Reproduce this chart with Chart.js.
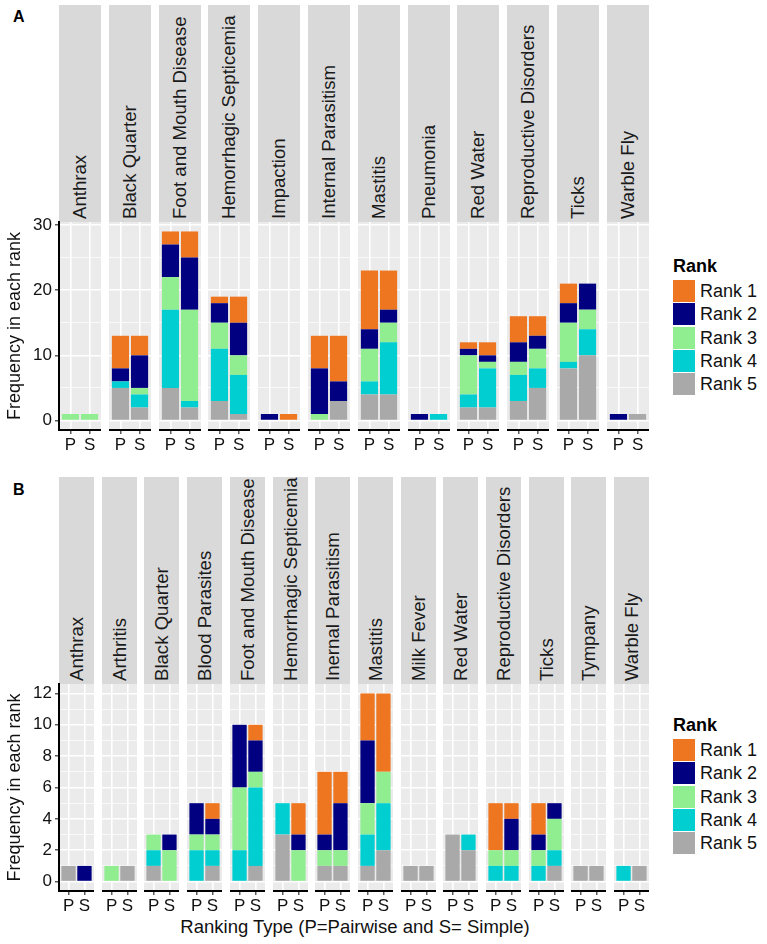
<!DOCTYPE html>
<html>
<head>
<meta charset="utf-8">
<script src="https://cdn.jsdelivr.net/npm/chart.js@4.4.0/dist/chart.umd.min.js"></script>
<style>
body { margin: 0; background: #fff; font-family: 'Liberation Sans', Arial, sans-serif; }
#wrap { position: relative; width: 767px; height: 944px; overflow: hidden; }
.strip { position: absolute; background: #d9d9d9; overflow: hidden; }
.strip span { position: absolute; white-space: nowrap; font-size: 18.6px; line-height: 20px; color: #1a1a1a; transform-origin: 0 0; transform: rotate(-90deg); }
canvas { position: absolute; }
.letter { position: absolute; left: 13px; font: bold 16px 'Liberation Sans Narrow', 'Liberation Sans', sans-serif; }
.lgTitle { position: absolute; left: 673px; font-size: 18px; font-weight: bold; line-height: 20px; }
.lgKey { position: absolute; left: 673px; width: 22px; height: 22px; }
.lgText { position: absolute; left: 700px; font-size: 18px; line-height: 22px; color: #111; }
#xtitle { position: absolute; left: 59px; width: 592px; top: 917px; text-align: center; font-size: 18.5px; line-height: 20px; color: #111; }
</style>
</head>
<body>
<div id="wrap">
  <div id="xtitle">Ranking Type (P=Pairwise and S= Simple)</div>
</div>
<script>
// ranks, bottom of the stack is Rank 5
const rankNames = ['Rank 1', 'Rank 2', 'Rank 3', 'Rank 4', 'Rank 5'];
const rankColors = ['#EE7621', '#000080', '#90EE90', '#00CED1', '#A9A9A9'];
const typeLabels = ['P', 'S'];

// panel A
const diseasesA = ['Anthrax', 'Black Quarter', 'Foot and Mouth Disease', 'Hemorrhagic Septicemia', 'Impaction',
  'Internal Parasitism', 'Mastitis', 'Pneumonia', 'Red Water', 'Reproductive Disorders', 'Ticks', 'Warble Fly'];
const aP1 = [0, 5, 2, 1, 0, 5, 9, 0, 1, 4, 3, 0];
const aP2 = [0, 2, 5, 3, 1, 7, 3, 1, 1, 3, 3, 1];
const aP3 = [1, 0, 5, 4, 0, 1, 5, 0, 6, 2, 6, 0];
const aP4 = [0, 1, 12, 8, 0, 0, 2, 0, 2, 4, 1, 0];
const aP5 = [0, 5, 5, 3, 0, 0, 4, 0, 2, 3, 8, 0];
const aS1 = [0, 3, 4, 4, 1, 7, 6, 0, 2, 3, 0, 0];
const aS2 = [0, 5, 8, 5, 0, 3, 2, 0, 1, 2, 4, 0];
const aS3 = [1, 1, 14, 3, 0, 0, 3, 0, 1, 3, 3, 0];
const aS4 = [0, 2, 1, 6, 0, 0, 8, 1, 6, 3, 4, 0];
const aS5 = [0, 2, 2, 1, 0, 3, 4, 0, 2, 5, 10, 1];
const yTicksA = [0, 5, 10, 15, 20, 25, 30];

// panel B
const diseasesB = ['Anthrax', 'Arthritis', 'Black Quarter', 'Blood Parasites', 'Foot and Mouth Disease',
  'Hemorrhagic Septicemia', 'Inernal Parasitism', 'Mastitis', 'Milk Fever', 'Red Water',
  'Reproductive Disorders', 'Ticks', 'Tympany', 'Warble Fly'];
const bP1 = [0, 0, 0, 0, 0, 0, 4, 3, 0, 0, 3, 2, 0, 0];
const bP2 = [0, 0, 0, 2, 4, 0, 1, 4, 0, 0, 0, 1, 0, 0];
const bP3 = [0, 1, 1, 1, 4, 0, 1, 2, 0, 0, 1, 1, 0, 0];
const bP4 = [0, 0, 1, 2, 2, 2, 0, 2, 0, 0, 1, 1, 0, 1];
const bP5 = [1, 0, 1, 0, 0, 3, 1, 1, 1, 3, 0, 0, 1, 0];
const bS1 = [0, 0, 0, 1, 1, 2, 2, 5, 0, 0, 1, 0, 0, 0];
const bS2 = [1, 0, 1, 1, 2, 1, 3, 0, 0, 0, 2, 1, 0, 0];
const bS3 = [0, 0, 2, 1, 1, 2, 1, 2, 0, 0, 1, 2, 0, 0];
const bS4 = [0, 0, 0, 1, 5, 0, 0, 3, 0, 1, 1, 1, 0, 0];
const bS5 = [0, 1, 0, 1, 1, 0, 1, 2, 1, 2, 0, 1, 1, 1];
const yTicksB = [0, 1, 2, 3, 4, 5, 6, 7, 8, 9, 10, 11, 12];

const FONT = "'Liberation Sans', Arial, sans-serif";
Chart.defaults.font.family = FONT;
const PADTOP = 12;   // room above the panel for the top tick label
const XAXIS_H = 30;

const panelA = { letter: 'A', letterTop: 8, diseases: diseasesA,
  P: [aP1, aP2, aP3, aP4, aP5], S: [aS1, aS2, aS3, aS4, aS5],
  ticks: yTicksA, major: 10, yMin: -1.45, yMax: 30.45,
  left: 59, fw: 42, pitch: 49.8, stripTop: 5, top: 222, bottom: 430, legendTop: 256 };
const panelB = { letter: 'B', letterTop: 481, diseases: diseasesB,
  P: [bP1, bP2, bP3, bP4, bP5], S: [bS1, bS2, bS3, bS4, bS5],
  ticks: yTicksB, major: 2, yMin: -0.6, yMax: 12.6,
  left: 59, fw: 35, pitch: 42.7, stripTop: 477, top: 684, bottom: 891, legendTop: 715 };

const wrap = document.getElementById('wrap');

// grey panel background under the grid
const panelBg = {
  id: 'panelBg',
  beforeDraw(chart) {
    const a = chart.chartArea, c = chart.ctx;
    c.save();
    c.fillStyle = '#EBEBEB';
    c.fillRect(a.left, a.top, a.right - a.left, a.bottom - a.top);
    c.restore();
  }
};

function drawPanel(p) {
  const lt = document.createElement('div');
  lt.className = 'letter';
  lt.style.top = p.letterTop + 'px';
  lt.textContent = p.letter;
  wrap.appendChild(lt);

  p.diseases.forEach((name, i) => {
    const fx = Math.round(p.left + i * p.pitch);
    const sh = p.top - p.stripTop;

    // facet strip
    const strip = document.createElement('div');
    strip.className = 'strip';
    strip.style.left = fx + 'px';
    strip.style.top = p.stripTop + 'px';
    strip.style.width = p.fw + 'px';
    strip.style.height = sh + 'px';
    const sp = document.createElement('span');
    sp.textContent = name;
    sp.style.left = ((p.fw - 20) / 2) + 'px';
    sp.style.top = (sh - 3) + 'px';
    strip.appendChild(sp);
    wrap.appendChild(strip);

    // facet chart
    const first = i === 0;
    const cl = first ? 0 : fx;
    const cw = first ? fx + p.fw : p.fw;
    const ch = PADTOP + (p.bottom - p.top) + XAXIS_H;
    const cv = document.createElement('canvas');
    cv.width = cw; cv.height = ch;
    cv.style.left = cl + 'px';
    cv.style.top = (p.top - PADTOP) + 'px';
    cv.style.width = cw + 'px';
    cv.style.height = ch + 'px';
    wrap.appendChild(cv);

    const datasets = [4, 3, 2, 1, 0].map(r => ({
      label: rankNames[r],
      backgroundColor: rankColors[r],
      data: [{ x: 1, y: p.P[r][i] }, { x: 2, y: p.S[r][i] }],
      borderWidth: 0,
      barPercentage: 0.9,
      categoryPercentage: 1
    }));

    const isMajor = c => c.tick && c.tick.value % p.major === 0;

    new Chart(cv, {
      type: 'bar',
      data: { datasets: datasets },
      plugins: [panelBg],
      options: {
        responsive: false,
        animation: false,
        devicePixelRatio: 1,
        layout: { padding: { top: PADTOP, left: 0, right: 0, bottom: 0 } },
        plugins: { legend: { display: false }, tooltip: { enabled: false } },
        scales: {
          x: {
            type: 'linear', min: 0.4, max: 2.6, offset: false, stacked: true,
            afterBuildTicks: s => { s.ticks = [{ value: 1 }, { value: 2 }]; },
            afterFit: s => { s.height = XAXIS_H; s.paddingLeft = 0; s.paddingRight = 0; },
            ticks: { callback: (v, idx) => typeLabels[idx], font: { size: 17 }, color: '#111',
                     padding: 1, maxRotation: 0, autoSkip: false },
            grid: { offset: false, color: '#fff', lineWidth: 1.6, tickColor: '#333', tickLength: 4, tickWidth: 1.2 },
            border: { display: true, color: '#000', width: 2 }
          },
          y: {
            type: 'linear', min: p.yMin, max: p.yMax, stacked: true,
            afterBuildTicks: s => { s.ticks = p.ticks.map(v => ({ value: v })); },
            afterFit: s => { s.width = first ? p.left : 0; s.paddingTop = 0; s.paddingBottom = 0; },
            ticks: { display: first, callback: v => (v % p.major === 0 ? v : ''), font: { size: 17 },
                     color: '#111', padding: 3, autoSkip: false },
            grid: {
              color: '#fff',
              lineWidth: c => (isMajor(c) ? 1.6 : 0.7),
              drawTicks: first, tickLength: 4, tickWidth: 1.2,
              tickColor: c => (isMajor(c) ? '#333' : 'rgba(0,0,0,0)')
            },
            border: { display: first, color: '#000', width: 2 },
            title: { display: first, text: 'Frequency in each rank', font: { size: 18 }, color: '#111',
                     padding: { top: 4, bottom: 0 } }
          }
        }
      }
    });
  });

  // legend
  const t = document.createElement('div');
  t.className = 'lgTitle';
  t.style.top = p.legendTop + 'px';
  t.textContent = 'Rank';
  wrap.appendChild(t);
  rankNames.forEach((r, k) => {
    const y = p.legendTop + 24 + k * 23.3;
    const key = document.createElement('div');
    key.className = 'lgKey';
    key.style.top = Math.round(y) + 'px';
    key.style.background = rankColors[k];
    wrap.appendChild(key);
    const lab = document.createElement('div');
    lab.className = 'lgText';
    lab.style.top = Math.round(y) + 'px';
    lab.textContent = r;
    wrap.appendChild(lab);
  });
}

drawPanel(panelA);
drawPanel(panelB);
</script>
</body>
</html>
